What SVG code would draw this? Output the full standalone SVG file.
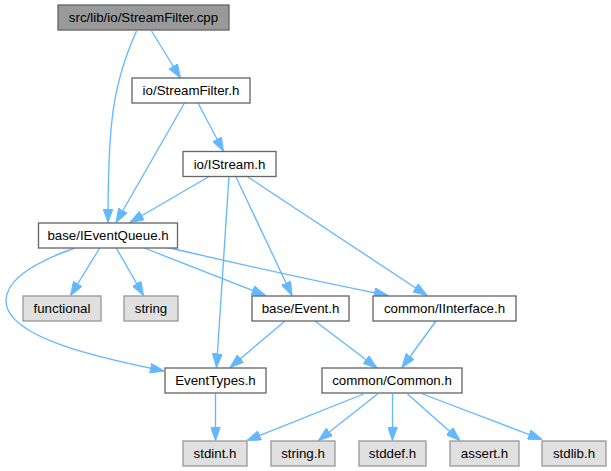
<svg xmlns="http://www.w3.org/2000/svg" width="611" height="471" viewBox="0 0 611 471">
<style>
.n rect{fill:#ffffff;stroke:#666666;stroke-width:1.33}
.s rect{fill:#e0e0e0;stroke:#999999;stroke-width:1.33}
.r rect{fill:#999999;stroke:#666666;stroke-width:1.33}
text{font-family:"Liberation Sans",Arial,Helvetica,sans-serif;font-size:13.3px;fill:#000000;text-anchor:middle}
#edges path{fill:none;stroke:#63b8ff;stroke-width:1.33;marker-end:url(#ah)}
</style>
<defs>
<marker id="ah" viewBox="0 0 14 10" refX="14" refY="5" markerWidth="14" markerHeight="10" markerUnits="userSpaceOnUse" orient="auto">
<path d="M0,0 L14,5 L0,10 z" fill="#63b8ff" stroke="#63b8ff" stroke-width="1"/>
</marker>
</defs>
<rect width="611" height="471" fill="#ffffff"/>
<g id="edges">
<path d="M136.5,31 C127,52 116,82 112,120 C108,155 108,190 108,222.5"/>
<path d="M151.5,31 L180.5,78"/>
<path d="M184.5,103 L116,222.5"/>
<path d="M198,103 L223.5,151.5"/>
<path d="M210,176 L130,222.5"/>
<path d="M229,176 L216.5,367.5"/>
<path d="M235.5,176 L292,295.5"/>
<path d="M246.5,176 L427,295.5"/>
<path d="M100,247.5 L70.5,295.5"/>
<path d="M116,247.5 L143.5,295.5"/>
<path d="M143,247.5 L265.5,295.5"/>
<path d="M168,247.5 C230,262 310,280 388,295.5"/>
<path d="M75,248 C35,262 5,280 6,302 C8,338 100,358 164,371"/>
<path d="M285,321 L230,367.5"/>
<path d="M315,321 L377,368"/>
<path d="M436,321 L402,367.5"/>
<path d="M215.5,393.5 L215.5,440.5"/>
<path d="M363.5,394 L247,440.5"/>
<path d="M377.5,394 L318.5,440.5"/>
<path d="M392.5,394 L392.5,440.5"/>
<path d="M407.5,394 L460,440.5"/>
<path d="M422.5,394 L542,439.5"/>
</g>
<g id="node_cpp" class="r"><rect x="58" y="5" width="171" height="25"/><text x="143.5" y="22">src/lib/io/StreamFilter.cpp</text></g>
<g id="node_streamfilter_h" class="n"><rect x="132" y="78" width="118" height="25"/><text x="191" y="95">io/StreamFilter.h</text></g>
<g id="node_istream_h" class="n"><rect x="183" y="151.5" width="93" height="25"/><text x="229.5" y="168.5">io/IStream.h</text></g>
<g id="node_ieventqueue_h" class="n"><rect x="38.5" y="223" width="139" height="25"/><text x="108" y="240">base/IEventQueue.h</text></g>
<g id="node_functional" class="s"><rect x="23" y="296" width="78" height="25"/><text x="62" y="313">functional</text></g>
<g id="node_string" class="s"><rect x="124" y="296" width="54" height="25"/><text x="151" y="313">string</text></g>
<g id="node_event_h" class="n"><rect x="252" y="296" width="97" height="25"/><text x="300.5" y="313">base/Event.h</text></g>
<g id="node_iinterface_h" class="n"><rect x="373" y="296" width="143" height="25"/><text x="444.5" y="313">common/IInterface.h</text></g>
<g id="node_eventtypes_h" class="n"><rect x="165" y="368" width="101" height="25"/><text x="215.5" y="385">EventTypes.h</text></g>
<g id="node_common_h" class="n"><rect x="322" y="368" width="140" height="25"/><text x="392" y="385">common/Common.h</text></g>
<g id="node_stdint_h" class="s"><rect x="183" y="441" width="64" height="25"/><text x="215" y="458">stdint.h</text></g>
<g id="node_string_h" class="s"><rect x="271" y="441" width="64" height="25"/><text x="303" y="458">string.h</text></g>
<g id="node_stddef_h" class="s"><rect x="359" y="441" width="67" height="25"/><text x="392.5" y="458">stddef.h</text></g>
<g id="node_assert_h" class="s"><rect x="450" y="441" width="69" height="25"/><text x="484.5" y="458">assert.h</text></g>
<g id="node_stdlib_h" class="s"><rect x="542" y="441" width="64" height="25"/><text x="574" y="458">stdlib.h</text></g>
</svg>
